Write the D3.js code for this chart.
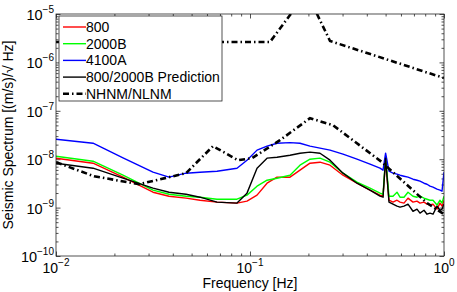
<!DOCTYPE html>
<html>
<head>
<meta charset="utf-8">
<script src="https://cdnjs.cloudflare.com/ajax/libs/d3/7.8.5/d3.min.js"></script>
<style>
  body { margin: 0; background: #fff; }
  svg { font-family: "Liberation Sans", Arial, Helvetica, sans-serif; }
  .axis path { display: none; }
  .axis line { stroke: #262626; stroke-width: 0.8; }
</style>
</head>
<body>
<svg id="chart" width="457" height="292"></svg>
<script>
// frequency grid [Hz] shared by the measured spectra
var freq = [0.0100, 0.01552, 0.02215, 0.03162, 0.03824, 0.04678, 0.05525, 0.06758, 0.08570, 0.09649,
  0.1087, 0.1224, 0.1378, 0.1608, 0.1810, 0.2038, 0.2295, 0.2585, 0.3016, 0.3560,
  0.4155, 0.4678, 0.4850, 0.5000, 0.5206, 0.5459, 0.5725, 0.5933, 0.6220, 0.6523,
  0.6920, 0.7258, 0.7521, 0.7887, 0.8175, 0.8469, 0.8776, 0.9203, 0.9537, 0.9766, 1.0];

var s800 = [1.05e-8, 8.27e-9, 4.25e-9, 2.08e-9, 1.72e-9, 1.57e-9, 1.42e-9, 1.30e-9, 1.24e-9, 1.36e-9,
  1.81e-9, 3.19e-9, 4.25e-9, 4.25e-9, 5.93e-9, 8.27e-9, 8.67e-9, 7.52e-9, 4.67e-9, 3.19e-9,
  2.29e-9, 1.81e-9, 1.72e-9, 9.54e-9, 1.42e-9, 1.30e-9, 1.42e-9, 1.30e-9, 1.24e-9, 1.57e-9,
  1.30e-9, 1.36e-9, 1.24e-9, 1.30e-9, 1.18e-9, 1.13e-9, 1.18e-9, 9.3e-10, 1.24e-9, 1.07e-9, 1.42e-9];

var s2000B = [1.15e-8, 9.09e-9, 4.67e-9, 2.29e-9, 1.89e-9, 1.72e-9, 1.64e-9, 1.49e-9, 1.49e-9, 1.81e-9,
  2.77e-9, 3.68e-9, 4.05e-9, 4.67e-9, 7.52e-9, 1.00e-8, 1.05e-8, 8.67e-9, 5.14e-9, 3.35e-9,
  2.52e-9, 1.99e-9, 1.89e-9, 1.10e-8, 1.72e-9, 1.72e-9, 2.08e-9, 1.64e-9, 1.64e-9, 2.08e-9,
  1.72e-9, 1.64e-9, 1.72e-9, 1.57e-9, 1.49e-9, 1.42e-9, 1.42e-9, 1.13e-9, 1.42e-9, 1.24e-9, 1.72e-9];

var s4100A = [2.59e-8, 2.14e-8, 1.07e-8, 5.39e-9, 4.25e-9, 5.14e-9, 5.39e-9, 5.65e-9, 6.52e-9, 9.54e-9,
  1.54e-8, 1.86e-8, 2.14e-8, 2.20e-8, 2.14e-8, 1.86e-8, 1.69e-8, 1.54e-8, 1.27e-8, 1.00e-8,
  7.88e-9, 6.52e-9, 5.93e-9, 1.33e-8, 5.65e-9, 5.14e-9, 4.90e-9, 4.67e-9, 4.45e-9, 4.25e-9,
  3.86e-9, 3.68e-9, 3.51e-9, 3.19e-9, 3.04e-9, 2.77e-9, 2.64e-9, 2.40e-9, 2.29e-9, 2.18e-9, 5.39e-9];

var sPred = [8.27e-9, 6.52e-9, 4.05e-9, 2.52e-9, 2.08e-9, 1.89e-9, 1.64e-9, 1.30e-9, 1.24e-9, 1.99e-9,
  6.52e-9, 1.05e-8, 1.10e-8, 1.21e-8, 1.33e-8, 1.40e-8, 1.33e-8, 9.54e-9, 5.14e-9, 3.19e-9,
  2.29e-9, 1.72e-9, 1.64e-9, 1.05e-8, 1.30e-9, 1.18e-9, 1.07e-9, 1.02e-9, 1.07e-9, 1.18e-9,
  8.4e-10, 9.3e-10, 7.7e-10, 8.8e-10, 7.3e-10, 7.7e-10, 7.3e-10, 1.07e-9, 8.8e-10, 9.3e-10, 1.18e-9];

// Peterson noise models
var nhnmFreq = [0.01, 0.1268, 0.1608, 0.1944, 0.2215, 0.2585, 1.0];
var nhnmVal = [2.64e-6, 2.64e-6, 9.5e-6, 2.63e-5, 1.0e-5, 2.77e-6, 4.76e-7];
var nlnmFreq = [0.01, 0.01570, 0.02679, 0.04678, 0.06447, 0.08672, 0.1024, 0.1427, 0.2038, 0.2678, 0.4790, 0.8175, 1.0];
var nlnmVal = [8.67e-9, 4.45e-9, 3.04e-9, 5.14e-9, 1.86e-8, 9.54e-9, 1.05e-8, 2.47e-8, 7.03e-8, 5.04e-8, 8.67e-9, 1.24e-9, 7.3e-10];

var xMajor = [0.01, 0.1, 1],
  yMajor = [1e-10, 1e-9, 1e-8, 1e-7, 1e-6, 1e-5];

var series = [
  {name: '800', color: '#ff0000', vals: s800},
  {name: '2000B', color: '#00ff00', vals: s2000B},
  {name: '4100A', color: '#0000ff', vals: s4100A},
  {name: '800/2000B Prediction', color: '#000000', vals: sPred}
];

var svg = d3.select('#chart'),
  pl = 56, pr = 444, pt = 14, pb = 256;

var x = d3.scaleLog().domain([0.01, 1]).range([pl, pr]),
  y = d3.scaleLog().domain([1e-10, 1e-5]).range([pb, pt]);

var minorX = [], minorY = [];
[0.01, 0.1].forEach(function(d){ for (var k = 2; k < 10; k++) minorX.push(d * k); });
yMajor.slice(0, 5).forEach(function(d){ for (var k = 2; k < 10; k++) minorY.push(d * k); });

svg.append('clipPath').attr('id', 'plotclip')
  .append('rect').attr('x', pl).attr('y', pt).attr('width', pr - pl).attr('height', pb - pt);

// ticks, inward on all four sides
function tickAxis(axis, vals, size, tr){
  svg.append('g').attr('class', 'axis').attr('transform', tr)
    .call(axis.tickValues(vals).tickSize(size).tickFormat(''));
}
tickAxis(d3.axisBottom(x), xMajor, -4.5, 'translate(0,' + pb + ')');
tickAxis(d3.axisBottom(x), minorX, -2.5, 'translate(0,' + pb + ')');
tickAxis(d3.axisTop(x), xMajor, -4.5, 'translate(0,' + pt + ')');
tickAxis(d3.axisTop(x), minorX, -2.5, 'translate(0,' + pt + ')');
tickAxis(d3.axisLeft(y), yMajor, -4.5, 'translate(' + pl + ',0)');
tickAxis(d3.axisLeft(y), minorY, -2.5, 'translate(' + pl + ',0)');
tickAxis(d3.axisRight(y), yMajor, -4.5, 'translate(' + pr + ',0)');
tickAxis(d3.axisRight(y), minorY, -2.5, 'translate(' + pr + ',0)');

var line = d3.line()
  .x(function(d){ return x(d[0]); })
  .y(function(d){ return y(d[1]); });

var plot = svg.append('g').attr('clip-path', 'url(#plotclip)');

series.forEach(function(s){
  plot.append('path')
    .datum(d3.zip(freq, s.vals))
    .attr('d', line)
    .style('fill', 'none').style('stroke', s.color).style('stroke-width', 1.4)
    .style('stroke-linejoin', 'round');
});

var dashStyle = '6,3,1.5,3';
[[nhnmFreq, nhnmVal], [nlnmFreq, nlnmVal]].forEach(function(m){
  plot.append('path')
    .datum(d3.zip(m[0], m[1]))
    .attr('d', line)
    .style('fill', 'none').style('stroke', '#000').style('stroke-width', 2.6)
    .style('stroke-dasharray', dashStyle);
});

// frame
svg.append('rect')
  .attr('x', pl).attr('y', pt).attr('width', pr - pl).attr('height', pb - pt)
  .style('fill', 'none').style('stroke', '#262626').style('stroke-width', 0.8);

// tick labels as 10^n
function exp(d){ return Math.round(Math.log10(d)).toString().replace('-', '\u2212'); }

svg.selectAll('text.xlab').data(xMajor).enter().append('text')
  .attr('class', 'xlab')
  .attr('x', function(d){ return x(d); }).attr('y', 273)
  .attr('text-anchor', 'middle').style('font-size', '14px')
  .each(function(d){
    var t = d3.select(this);
    t.append('tspan').text('10');
    t.append('tspan').attr('dy', -7).style('font-size', '10px').text(exp(d));
  });

svg.selectAll('text.ylab').data(yMajor).enter().append('text')
  .attr('class', 'ylab')
  .attr('x', 54).attr('y', function(d){ return y(d) + 6; })
  .attr('text-anchor', 'end').style('font-size', '14.5px')
  .each(function(d){
    var t = d3.select(this);
    t.append('tspan').text('10');
    t.append('tspan').attr('dy', -7).style('font-size', '10px').text(exp(d));
  });

svg.append('text')
  .attr('x', (pl + pr) / 2).attr('y', 288)
  .attr('text-anchor', 'middle').style('font-size', '14px')
  .text('Frequency [Hz]');

svg.append('text')
  .attr('transform', 'translate(13,' + (pt + pb) / 2 + ')rotate(-90)')
  .attr('text-anchor', 'middle').style('font-size', '14px')
  .text('Seismic Spectrum [(m/s)/\u221A Hz]');

// legend
var legend = svg.append('g').attr('transform', 'translate(59,16)');
legend.append('rect')
  .attr('width', 163).attr('height', 85)
  .style('fill', '#fff').style('stroke', '#262626').style('stroke-width', 0.8);

var entries = series.map(function(s){ return {name: s.name, color: s.color, dash: null, w: 1.4}; });
entries.push({name: 'NHNM/NLNM', color: '#000', dash: dashStyle, w: 2.6});

var item = legend.selectAll('g.item').data(entries).enter().append('g')
  .attr('class', 'item')
  .attr('transform', function(d, i){ return 'translate(0,' + (11 + i * 16.7) + ')'; });
item.append('line')
  .attr('x1', 4).attr('x2', 27).attr('y1', 0).attr('y2', 0)
  .style('stroke', function(d){ return d.color; })
  .style('stroke-width', function(d){ return d.w; })
  .style('stroke-dasharray', function(d){ return d.dash; });
item.append('text')
  .attr('x', 27).attr('y', 5).style('font-size', '14px')
  .text(function(d){ return d.name; });
</script>
</body>
</html>
